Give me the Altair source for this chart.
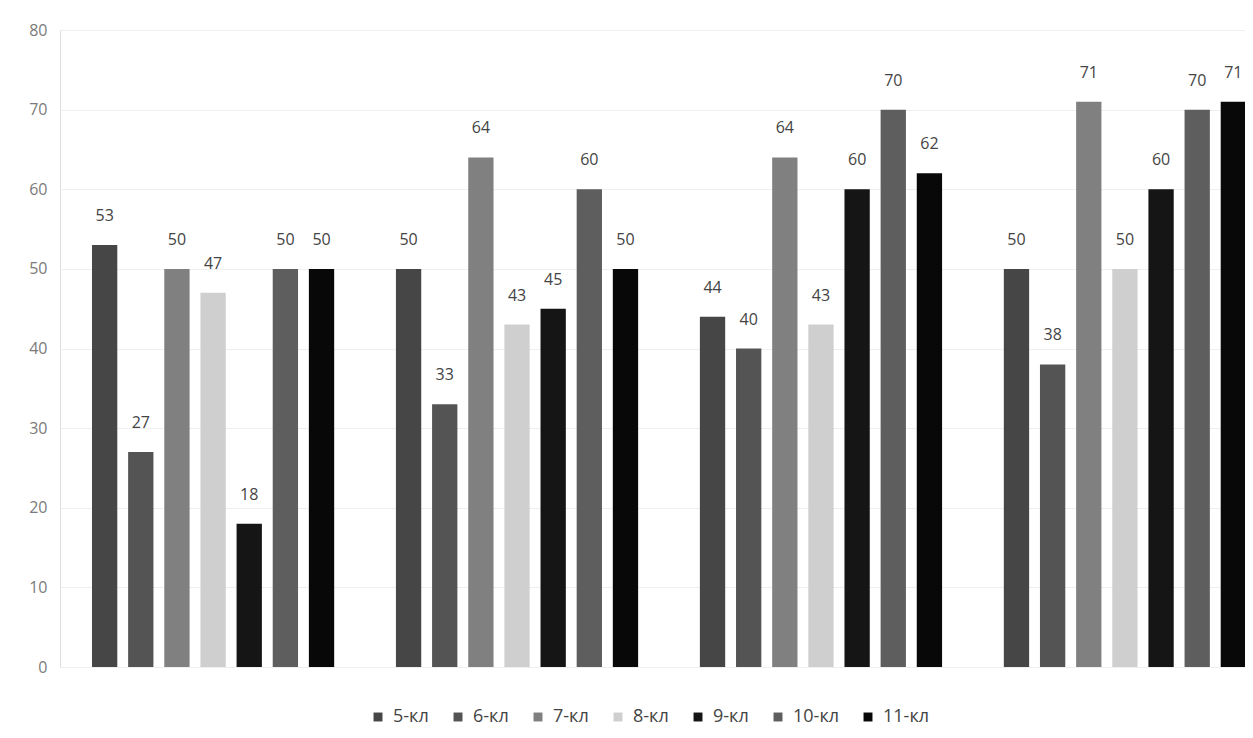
import altair as alt
import pandas as pd

groups = ["1", "2", "3", "4"]
series = ["5-кл", "6-кл", "7-кл", "8-кл", "9-кл", "10-кл", "11-кл"]
v5 = [53, 50, 44, 50]
v6 = [27, 33, 40, 38]
v7 = [50, 64, 64, 71]
v8 = [47, 43, 43, 50]
v9 = [18, 45, 60, 60]
v10 = [50, 60, 70, 70]
v11 = [50, 50, 62, 71]
colors = ["#464646", "#545454", "#808080", "#cfcfcf", "#151515", "#5e5e5e", "#080808"]
y_ticks = [0, 10, 20, 30, 40, 50, 60, 70, 80]

all_vals = [v5, v6, v7, v8, v9, v10, v11]
rows = []
for s, vals in zip(series, all_vals):
    for g, v in zip(groups, vals):
        rows.append({"group": g, "series": s, "value": v})
df = pd.DataFrame(rows)

FONT = "Open Sans"

x = alt.X("group:N", axis=None, sort=groups,
          scale=alt.Scale(range=[0, 1218], paddingInner=0.1675, paddingOuter=0.0874))
xo = alt.XOffset("series:N", sort=series,
                 scale=alt.Scale(paddingInner=0.3, paddingOuter=0.15))
y = alt.Y("value:Q", scale=alt.Scale(domain=[0, 80]),
          axis=alt.Axis(values=y_ticks, domain=False, ticks=False, labelPadding=13,
                        gridColor="#efefef", labelColor="#7a7a7a", labelFontSize=16,
                        labelFont=FONT, title=None))

bars = alt.Chart(df).mark_bar(clip=True).encode(
    x=x, xOffset=xo, y=y,
    color=alt.Color("series:N", sort=series,
                    scale=alt.Scale(domain=series, range=colors),
                    legend=alt.Legend(orient="none", legendX=309, legendY=678,
                                      direction="horizontal", title=None,
                                      symbolType="square", symbolSize=80,
                                      labelFontSize=18, labelFont=FONT,
                                      labelColor="#444444", columnPadding=20,
                                      labelOffset=6, symbolStrokeWidth=0))
)

labels = alt.Chart(df).mark_text(baseline="bottom", dy=-21, fontSize=16,
                                 color="#444444", font=FONT).encode(
    x=x, xOffset=xo, y=y, text="value:Q"
)

chart = alt.layer(bars, labels).properties(
    width=1185, height=637,
    padding={"left": 52, "top": 22, "right": 0, "bottom": 63},
    autosize=alt.AutoSizeParams(type="none"),
).configure_view(stroke=None).configure(background="white")

chart.save("out.html", embed_options={"renderer": "svg", "actions": False})
